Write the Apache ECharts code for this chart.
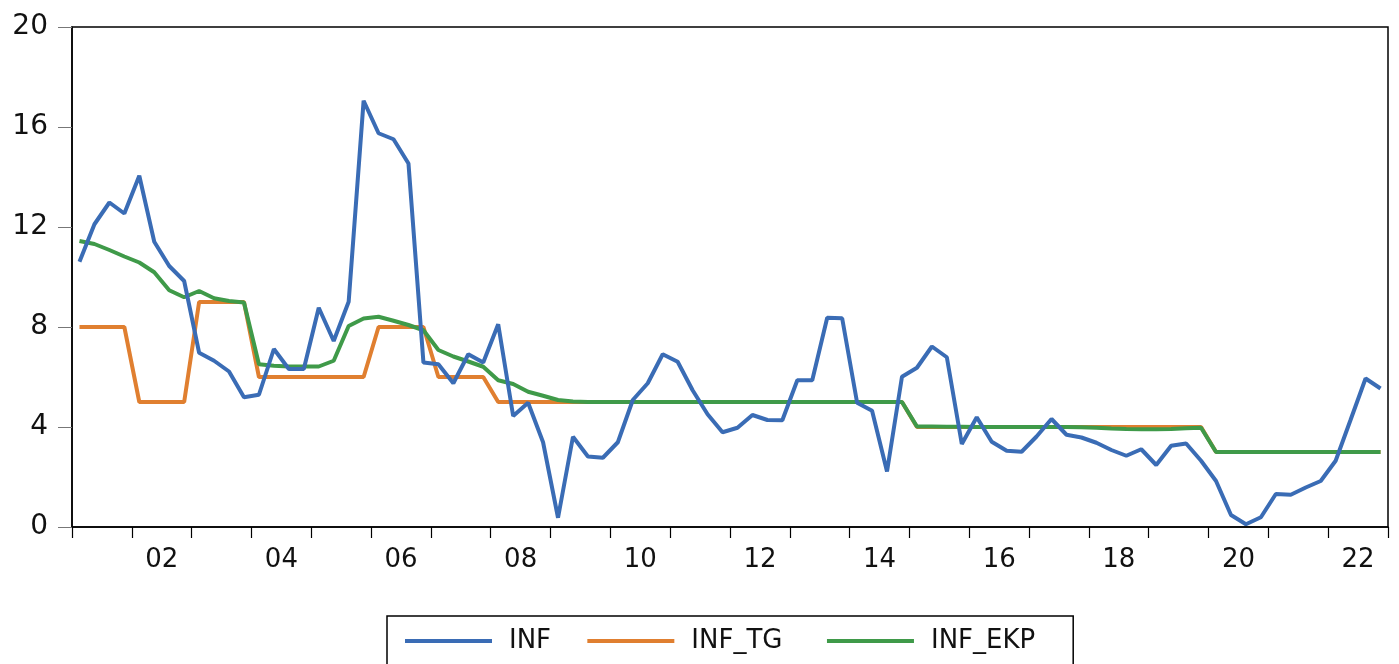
<!DOCTYPE html>
<html>
<head>
<meta charset="utf-8">
<title>INF vs targets</title>
<script src="https://cdn.jsdelivr.net/npm/echarts@6/dist/echarts.min.js"></script>
<style>
  html, body { margin: 0; padding: 0; background: #fff; }
  #chart { width: 1399px; height: 664px; }
</style>
</head>
<body>
<div id="chart"></div>
<script>
// quarterly, 2001Q1 .. 2022Q4
const quarters = []
for (let y = 2001; y <= 2022; y++) {
  for (let q = 1; q <= 4; q++) quarters.push(y + 'Q' + q)
}

const inf = [
  10.61, 12.11, 12.98, 12.54, 14.05, 11.41, 10.44, 9.84,
  6.97, 6.65, 6.22, 5.19, 5.29, 7.12, 6.32, 6.32,
  8.77, 7.44, 9.01, 17.05, 15.75, 15.51, 14.54, 6.58,
  6.51, 5.75, 6.91, 6.58, 8.11, 4.44, 4.97, 3.39,
  0.37, 3.61, 2.82, 2.77, 3.39, 5.08, 5.75, 6.91,
  6.61, 5.47, 4.51, 3.79, 3.97, 4.48, 4.28, 4.27,
  5.87, 5.87, 8.37, 8.35, 4.97, 4.65, 2.22, 6.01,
  6.37, 7.22, 6.79, 3.32, 4.39, 3.41, 3.05, 3.01,
  3.62, 4.32, 3.69, 3.58, 3.37, 3.08, 2.85, 3.11,
  2.48, 3.25, 3.34, 2.65, 1.84, 0.48, 0.11, 0.39,
  1.32, 1.29, 1.58, 1.84, 2.65, 4.29, 5.94, 5.54,
]

const infTg = [
  8, 8, 8, 8, 5, 5, 5, 5,
  9, 9, 9, 9, 6, 6, 6, 6,
  6, 6, 6, 6, 8, 8, 8, 8,
  6, 6, 6, 6, 5, 5, 5, 5,
  5, 5, 5, 5, 5, 5, 5, 5,
  5, 5, 5, 5, 5, 5, 5, 5,
  5, 5, 5, 5, 5, 5, 5, 5,
  4, 4, 4, 4, 4, 4, 4, 4,
  4, 4, 4, 4, 4, 4, 4, 4,
  4, 4, 4, 4, 3, 3, 3, 3,
  3, 3, 3, 3, 3, 3, 3, 3,
]

const infEkp = [
  11.44, 11.32, 11.08, 10.82, 10.58, 10.19, 9.47, 9.19,
  9.44, 9.15, 9.04, 8.98, 6.51, 6.45, 6.42, 6.42,
  6.42, 6.65, 8.04, 8.34, 8.41, 8.25, 8.08, 7.87,
  7.08, 6.82, 6.62, 6.41, 5.87, 5.72, 5.41, 5.25,
  5.08, 5.02, 5.0, 5.0, 5.0, 5.0, 5.0, 5.0,
  5.0, 5.0, 5.0, 5.0, 5.0, 5.0, 5.0, 5.0,
  5.0, 5.0, 5.0, 5.0, 5.0, 5.0, 5.0, 5.0,
  4.02, 4.02, 4.01, 4.01, 4.0, 4.0, 4.0, 4.0,
  4.0, 4.0, 4.0, 3.99, 3.97, 3.94, 3.92, 3.91,
  3.91, 3.92, 3.95, 3.97, 3.0, 3.0, 3.0, 3.0,
  3.0, 3.0, 3.0, 3.0, 3.0, 3.0, 3.0, 3.0,
]

const yTicks = { min: 0, max: 20, interval: 4 }

const FONT = 'DejaVu Sans'
const BLUE = '#3a6cb5'
const ORANGE = '#e07f30'
const GREEN = '#3f9a49'

// trailing no-break spaces to widen legend entries like the original
const legendPad = { INF: 1, INF_TG: 2, INF_EKP: 0 }

const chart = echarts.init(document.getElementById('chart'))

chart.setOption({
  animation: false,
  textStyle: { fontFamily: FONT },
  grid: {
    left: 72, right: 11, top: 27, bottom: 137,
    show: true, borderColor: '#000', borderWidth: 1.5,
  },
  legend: {
    left: 387, top: 616,
    orient: 'horizontal',
    icon: 'rect',
    itemWidth: 87, itemHeight: 4, itemGap: 28,
    padding: [12, 38, 40, 18],
    borderColor: '#000', borderWidth: 1.5,
    formatter: (name) => name + '\u00a0'.repeat(legendPad[name]),
    textStyle: { fontSize: 26, color: '#111', padding: [0, 0, 0, 12] },
    data: ['INF', 'INF_TG', 'INF_EKP'],
  },
  xAxis: {
    type: 'category',
    data: quarters,
    boundaryGap: true,
    axisLine: { lineStyle: { color: '#000', width: 1.5 } },
    axisTick: { show: true, interval: 3, length: 11, lineStyle: { color: '#000', width: 1.2 } },
    axisLabel: {
      interval: (i) => i % 8 === 5,
      formatter: (v) => v.slice(2, 4),
      fontSize: 26, color: '#111', margin: 20,
      padding: [0, 0, 0, 15],
    },
    splitLine: { show: false },
  },
  yAxis: {
    type: 'value',
    min: yTicks.min, max: yTicks.max, interval: yTicks.interval,
    axisLine: { show: true, lineStyle: { color: '#000', width: 1.5 } },
    axisTick: { show: true, length: 14, lineStyle: { color: '#777', width: 1 } },
    axisLabel: { fontSize: 28, color: '#111', margin: 24 },
    splitLine: { show: false },
  },
  series: [
    {
      name: 'INF', type: 'line', data: inf, z: 4,
      symbol: 'none', lineStyle: { color: BLUE, width: 4 }, itemStyle: { color: BLUE },
    },
    {
      name: 'INF_TG', type: 'line', data: infTg, z: 2,
      symbol: 'none', lineStyle: { color: ORANGE, width: 4 }, itemStyle: { color: ORANGE },
    },
    {
      name: 'INF_EKP', type: 'line', data: infEkp, z: 3,
      symbol: 'none', lineStyle: { color: GREEN, width: 4 }, itemStyle: { color: GREEN },
    },
  ],
})
</script>
</body>
</html>
